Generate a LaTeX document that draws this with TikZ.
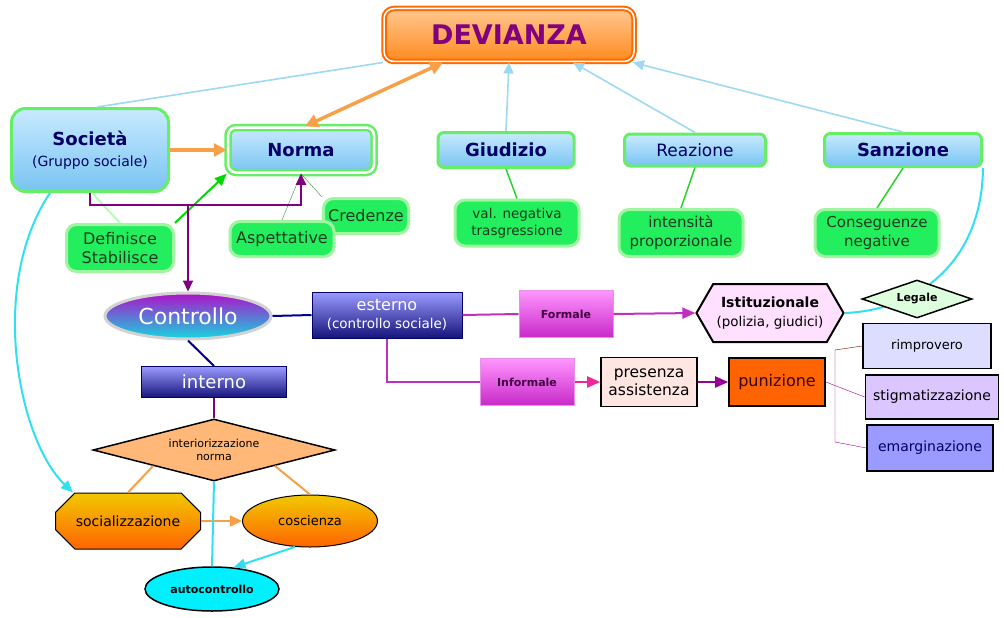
\documentclass[tikz,border=0pt]{standalone}
\usepackage{fontspec}
\setmainfont{DejaVu Sans}
\usepackage{tikz}
\usetikzlibrary{positioning,arrows.meta,shapes.geometric,shapes.misc,shapes.symbols}

\definecolor{devedge}{HTML}{FF6A00}
\definecolor{devtop}{HTML}{FFC890}
\definecolor{devbot}{HTML}{FF8A1E}
\definecolor{devtext}{HTML}{800080}
\definecolor{skytop}{HTML}{C8EAFF}
\definecolor{skybot}{HTML}{78C4F2}
\definecolor{boxgreen}{HTML}{66EE66}
\definecolor{navytext}{HTML}{000066}
\definecolor{leaf}{HTML}{22EE5E}
\definecolor{leafedge}{HTML}{A0F5A0}
\definecolor{leaftext}{HTML}{1E3A1E}
\definecolor{skyedge}{HTML}{9ED8F2}
\definecolor{flame}{HTML}{F8A048}
\definecolor{plum}{HTML}{800080}
\definecolor{navyline}{HTML}{000090}
\definecolor{indigotop}{HTML}{9A9AFF}
\definecolor{indigobot}{HTML}{14147A}
\definecolor{pinktop}{HTML}{FF96FF}
\definecolor{pinkbot}{HTML}{C828C8}
\definecolor{pinkedge}{HTML}{E890E8}
\definecolor{pinktext}{HTML}{400040}
\definecolor{magenta2}{HTML}{C030C0}
\definecolor{ambertop}{HTML}{F2C800}
\definecolor{amberbot}{HTML}{FF6400}
\definecolor{aqua}{HTML}{30E0F0}
\definecolor{aquafill}{HTML}{00F0FF}
\definecolor{ctrltop}{HTML}{B010C8}
\definecolor{ctrlmid}{HTML}{6A5AE0}
\definecolor{ctrlbot}{HTML}{12D8E0}
\definecolor{blush}{HTML}{FFE6E2}
\definecolor{lilac}{HTML}{FFE0FF}
\definecolor{mint}{HTML}{DDFFDD}
\definecolor{rimpfill}{HTML}{DDDDFF}
\definecolor{stigfill}{HTML}{DCC6FF}
\definecolor{emarfill}{HTML}{9A9AFF}
\definecolor{peach}{HTML}{FFB878}

\begin{document}
\begin{tikzpicture}[x=1pt, y=-1pt,
    bluebox/.style={rectangle, rounded corners=6pt, draw=boxgreen, line width=3pt,
      top color=skytop, bottom color=skybot, text=navytext, align=center,
      font=\fontsize{17}{20}\selectfont},
    greenbox/.style={rectangle, rounded corners=10pt, draw=leafedge, line width=3pt,
      fill=leaf, text=leaftext, align=center, inner sep=1pt,
      font=\fontsize{15}{19}\selectfont},
    indigobox/.style={rectangle, draw=navytext, line width=1pt, top color=indigotop,
      bottom color=indigobot, text=white, align=center, inner sep=1pt},
    pinkbox/.style={rectangle, draw=pinkedge, line width=1pt, top color=pinktop,
      bottom color=pinkbot, text=pinktext, minimum width=94pt, minimum height=47pt,
      font=\bfseries\fontsize{11}{13}\selectfont},
    framebox/.style={rectangle, draw=black, line width=1.6pt, align=center,
      inner sep=1pt, font=\fontsize{14}{17}\selectfont},
    amber/.style={top color=ambertop, bottom color=amberbot, draw=black,
      line width=1pt, inner sep=0pt, font=\fontsize{14}{17}\selectfont},
    skyarrow/.style={draw=skyedge, line width=1.6pt, >={Triangle[length=11pt,width=10pt]}},
    flamearrow/.style={draw=flame, line width=3.5pt, >={Triangle[length=13pt,width=13pt]}},
    leafline/.style={draw=green!75!black!60!boxgreen, line width=1.5pt},
    plumarrow/.style={draw=plum, line width=2pt, >={Triangle[length=11pt,width=10pt]}},
    magarrow/.style={draw=magenta2, line width=2pt, >={Triangle[length=13pt,width=11pt]}},
    aquaarrow/.style={draw=aqua, line width=2pt, >={Triangle[length=12pt,width=10pt]}}
  ]
  \useasboundingbox (0,0) rectangle (1004,618);

  % =====================================================
  % TOP: DEVIANZA AND ITS FOUR CONCEPTS
  % =====================================================
  \node[rectangle, rounded corners=10pt, draw=devedge, line width=2pt, double=white,
    double distance=1.5pt, top color=devtop, bottom color=devbot, text=devtext,
    minimum width=250pt, minimum height=53pt, font=\bfseries\fontsize{27}{32}\selectfont]
    (dev) at (509,35) {DEVIANZA};

  \node[bluebox, rounded corners=14pt, minimum width=157pt, minimum height=83pt,
    font=\fontsize{14}{21}\selectfont]
    (soc) at (90,150) {\textbf{\fontsize{18}{21}\selectfont Società}\\(Gruppo sociale)};
  \node[bluebox, rounded corners=8pt, line width=2.5pt, double=white, double distance=2.5pt,
    minimum width=146pt, minimum height=45pt] (norma) at (301,150) {\textbf{\fontsize{18}{22}\selectfont Norma}};
  \node[bluebox, minimum width=136pt, minimum height=35pt] (giu) at (506,150) {\textbf{\fontsize{18}{22}\selectfont Giudizio}};
  \node[bluebox, minimum width=141pt, minimum height=32pt] (rea) at (695,150) {Reazione};
  \node[bluebox, minimum width=157pt, minimum height=33pt] (san) at (903,150) {\textbf{\fontsize{18}{22}\selectfont Sanzione}};

  % green notes
  \node[greenbox, minimum width=124pt, minimum height=46pt, font=\fontsize{13.5}{17}\selectfont]
    (val) at (517,223) {val. negativa\\trasgressione};
  \node[greenbox, minimum width=124pt, minimum height=47pt] (inten) at (681,233) {intensità\\proporzionale};
  \node[greenbox, minimum width=124pt, minimum height=47pt] (cons) at (877,233) {Conseguenze\\negative};
  \node[greenbox, minimum width=107pt, minimum height=47pt, font=\fontsize{16}{19}\selectfont]
    (defin) at (120,248) {Definisce\\Stabilisce};
  \node[greenbox, minimum width=85pt, minimum height=35pt, font=\fontsize{16}{19}\selectfont]
    (cred) at (366,216) {Credenze};
  \node[greenbox, minimum width=104pt, minimum height=35pt, font=\fontsize{16}{19}\selectfont]
    (asp) at (282,239) {Aspettative};

  % =====================================================
  % MIDDLE: CONTROLLO
  % =====================================================
  \node[ellipse, draw=gray!35, line width=3pt, top color=ctrltop, middle color=ctrlmid,
    bottom color=ctrlbot, text=white, minimum width=166pt, minimum height=46pt,
    font=\fontsize{22}{26}\selectfont] (ctrl) at (188,316) {Controllo};
  \node[indigobox, minimum width=150pt, minimum height=46pt, font=\fontsize{13.5}{18}\selectfont]
    (est) at (387,315) {{\fontsize{16}{18}\selectfont esterno}\\(controllo sociale)};
  \node[indigobox, minimum width=145pt, minimum height=31pt, font=\fontsize{18}{22}\selectfont]
    (intn) at (214,382) {interno};

  \node[pinkbox] (form) at (566,314) {Formale};
  \node[pinkbox] (inf) at (527,382) {Informale};

  \node[signal, signal to=east and west, signal pointer angle=120, draw=black, line width=2pt,
    fill=lilac, align=center, minimum width=146pt, minimum height=58pt,
    font=\fontsize{13.5}{19}\selectfont]
    (ist) at (770,313) {\textbf{\fontsize{14}{19}\selectfont Istituzionale}\\(polizia, giudici)};

  \node[framebox, fill=blush, minimum width=96pt, minimum height=49pt, font=\fontsize{15.5}{18}\selectfont]
    (pres) at (649,382) {presenza\\assistenza};
  \node[framebox, fill=amberbot, text=black!80!red, minimum width=96pt, minimum height=48pt, font=\fontsize{16}{19}\selectfont]
    (pun) at (777,382) {punizione};
  \node[framebox, fill=rimpfill, minimum width=128pt, minimum height=45pt, font=\fontsize{13}{16}\selectfont]
    (rimp) at (927,346) {rimprovero};
  \node[framebox, fill=stigfill, minimum width=133pt, minimum height=44pt]
    (stig) at (932,397) {stigmatizzazione};
  \node[framebox, fill=emarfill, text=navytext, minimum width=126pt, minimum height=46pt]
    (emar) at (930,448) {emarginazione};

  % =====================================================
  % BOTTOM: INTERNAL CONTROL
  % =====================================================
  \node[diamond, aspect=3.9, draw=black, line width=1.5pt, fill=peach, inner sep=0pt, align=center,
    minimum width=242pt, minimum height=62pt, font=\fontsize{11}{13}\selectfont]
    (intz) at (214,450) {interiorizzazione\\norma};
  \node[chamfered rectangle, chamfered rectangle xsep=14pt, chamfered rectangle ysep=14pt,
    amber, minimum width=145pt, minimum height=56pt] (socz) at (128,521) {socializzazione};
  \node[ellipse, amber, minimum width=135pt, minimum height=52pt, font=\fontsize{13}{16}\selectfont]
    (cosc) at (310,521) {coscienza};
  \node[ellipse, draw=black, line width=1.5pt, fill=aquafill, minimum width=134pt, minimum height=44pt,
    font=\bfseries\fontsize{11}{13}\selectfont] (autoc) at (212,589) {autocontrollo};

  % =====================================================
  % CONNECTORS
  % =====================================================
  % into DEVIANZA
  \draw[skyarrow] ([xshift=7]soc.north) -- (dev.south west);
  \draw[skyarrow, ->] (giu.north) -- (dev.south);
  \draw[skyarrow, ->] (rea.north) -- ([xshift=64]dev.south);
  \draw[skyarrow, ->] (san.north) -- ([xshift=-2]dev.south east);
  \draw[flamearrow, <->] ([xshift=-66]dev.south) -- ([xshift=4]norma.north);
  \draw[flamearrow, ->] (soc.east) -- (norma.west);

  % notes
  \draw[leafline] (giu.south) -- (val.north);
  \draw[leafline] (rea.south) -- (inten.north);
  \draw[leafline] (san.south) -- (cons.north);
  \draw[draw=boxgreen!60!black, thin] (norma.south) -- (asp.north);
  \draw[draw=boxgreen!60!black, thin] (norma.south) -- (cred.north west);
  \draw[draw=green!30, line width=2pt] ([xshift=2]soc.south) -- (defin.north);
  \draw[draw=green!85!black, line width=2pt, >={Triangle[length=12pt,width=10pt]}, ->]
    (defin.north east) -- (norma.south west);

  % Società -> Norma / Controllo
  \draw[plumarrow, ->] (soc.south) -- ++(0,12) -| (norma.south);
  \draw[plumarrow, ->] (soc.south) -- ++(0,12) -| (ctrl.north);

  % Controllo branches
  \draw[navyline, line width=2pt] (ctrl.east) -- (est.west);
  \draw[navyline, line width=2pt] (ctrl.south) -- (intn.north);
  \draw[magarrow] (est.east) -- (form.west);
  \draw[magarrow, ->] (form.east) -- (ist.west);
  \draw[magarrow] (est.south) |- (inf.west);
  \draw[magarrow, draw=magenta!80!pink, ->] (inf.east) -- (pres.west);
  \draw[magarrow, draw=plum!80!magenta, ->] (pres.east) -- (pun.west);

  % Sanzione -> Istituzionale (behind Legale)
  \draw[aqua, line width=2pt] (san.south east) .. controls (982,260) and (920,310) .. (ist.east);
  \node[diamond, aspect=2.85, draw=black, line width=1.5pt, fill=mint, inner sep=0pt,
    minimum width=110pt, minimum height=38pt, font=\bfseries\fontsize{11}{13}\selectfont]
    (leg) at (917,299) {Legale};

  % punizione -> kinds
  \coordinate (brk) at (835,382);
  \draw[red!50!black, thin] (rimp.west) -- (brk |- 0,350) -- (brk);
  \draw[plum!80!magenta, thin] (pun.east) -- (stig.west);
  \draw[plum!80!magenta, thin] (brk) -- (brk |- 0,442) -- (emar.west);

  % interno
  \draw[plum, line width=2pt] (intn.south) -- (intz.north);
  \draw[flame, line width=2pt] (intz.south west) -- (socz.north);
  \draw[flame, line width=2pt] (intz.south east) -- (cosc.north);
  \draw[flamearrow, line width=2pt, >={Triangle[length=12pt,width=11pt]}, ->] (socz.east) -- (cosc.west);
  \draw[aqua, line width=2pt] (intz.south) -- (autoc.north);
  \draw[aquaarrow, ->] (cosc.240) -- (autoc.45);
  \draw[aquaarrow, ->] ([xshift=-40]soc.south) .. controls (-12,285) and (18,440) .. ([xshift=-55]socz.north);

\end{tikzpicture}
\end{document}
